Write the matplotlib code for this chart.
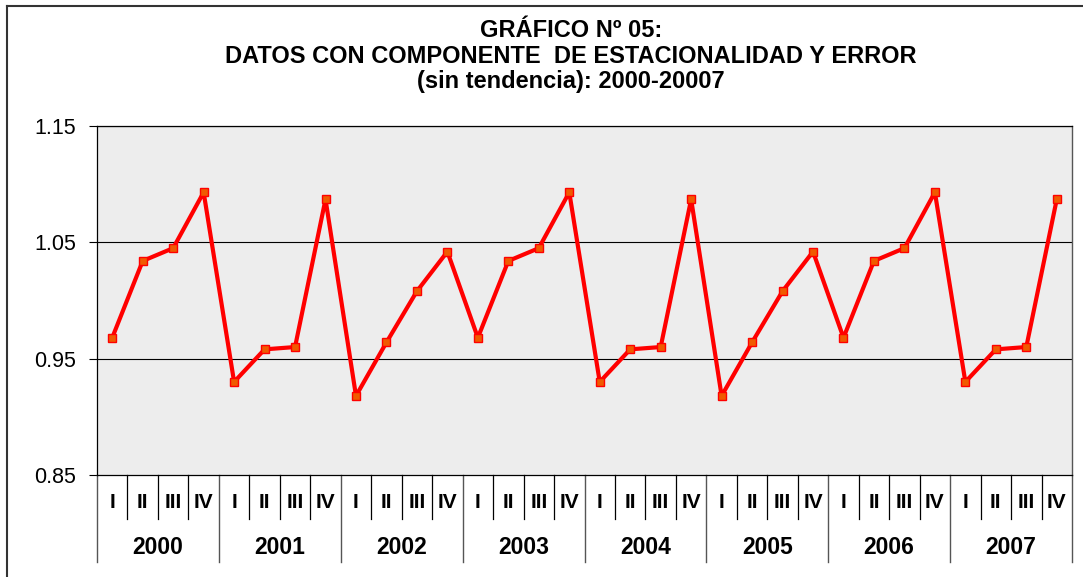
import matplotlib
matplotlib.use("Agg")
import matplotlib.pyplot as plt
from matplotlib.transforms import blended_transform_factory
from matplotlib.lines import Line2D

# ---- data ----
years = ["2000", "2001", "2002", "2003", "2004", "2005", "2006", "2007"]
quarters = ["I", "II", "III", "IV"]
values = [
    0.968, 1.034, 1.045, 1.093,   # 2000
    0.930, 0.958, 0.960, 1.087,   # 2001
    0.918, 0.964, 1.008, 1.042,   # 2002
    0.968, 1.034, 1.045, 1.093,   # 2003
    0.930, 0.958, 0.960, 1.087,   # 2004
    0.918, 0.964, 1.008, 1.042,   # 2005
    0.968, 1.034, 1.045, 1.093,   # 2006
    0.930, 0.958, 0.960, 1.087,   # 2007
]
yticks = [0.85, 0.95, 1.05, 1.15]
title_lines = ["GRÁFICO Nº 05:",
               "DATOS CON COMPONENTE  DE ESTACIONALIDAD Y ERROR",
               "(sin tendencia): 2000-20007"]

plt.rcParams["font.family"] = ["Liberation Sans", "DejaVu Sans"]

W, H = 1083, 577
fig = plt.figure(figsize=(W / 100, H / 100), dpi=100)
fig.patch.set_facecolor("white")

# outer chart border (left and top visible, right/bottom cut off)
fig.add_artist(Line2D([7 / W, 7 / W], [0, 1 - 6 / H], transform=fig.transFigure,
                      color="#333333", lw=1.5))
fig.add_artist(Line2D([7 / W, 1.0], [1 - 6 / H, 1 - 6 / H], transform=fig.transFigure,
                      color="#333333", lw=1.5))

ax_left, ax_right, ax_top, ax_bottom = 97, 1072, 126, 475
ax_h = ax_bottom - ax_top
ax = fig.add_axes([ax_left / W, 1 - ax_bottom / H, (ax_right - ax_left) / W, ax_h / H])
ax.set_facecolor("#ededed")

n = len(values)
xs = list(range(n))
ax.plot(xs, values, color="#ff0000", lw=3.0, marker="s", ms=5.5,
        mfc="#f05a00", mec="#ff0000", mew=1.0, zorder=3, clip_on=False)

ax.set_xlim(-0.5, n - 0.5)
ax.set_ylim(yticks[0], yticks[-1])
ax.set_yticks(yticks)
ax.set_yticklabels([f"{t:.2f}" for t in yticks], fontsize=15.5)
ax.tick_params(axis="y", direction="out", length=6, width=0.8, pad=9, colors="black")
ax.set_xticks([])

for t in yticks[1:]:
    ax.axhline(t, color="black", lw=0.8, zorder=2)

for side in ["left", "bottom", "top"]:
    ax.spines[side].set_color("black")
    ax.spines[side].set_linewidth(0.9)
ax.spines["right"].set_color("#555555")
ax.spines["right"].set_linewidth(1.0)

# multi-level category axis
tr = blended_transform_factory(ax.transData, ax.transAxes)
yq_end = -44 / ax_h
yy_end = -87 / ax_h
yq_lab = -28 / ax_h
yy_lab = -73 / ax_h

for i in range(n):
    q = quarters[i % 4]
    ax.text(i, yq_lab, q, transform=tr, ha="center", va="center",
            fontsize=15, fontweight="bold", clip_on=False)
    if i % 4 != 3:
        ax.add_line(Line2D([i + 0.5, i + 0.5], [0, yq_end], transform=tr,
                           color="black", lw=0.9, clip_on=False))

for k, yr in enumerate(years):
    xc = 4 * k + 1.5
    ax.text(xc, yy_lab, yr, transform=tr, ha="center", va="center",
            fontsize=16.5, fontweight="bold", clip_on=False)
for k in range(len(years) + 1):
    xb = 4 * k - 0.5
    ax.add_line(Line2D([xb, xb], [0, yy_end], transform=tr,
                       color="#555555", lw=1.0, clip_on=False))

# title
baselines = [37, 63, 88]
for line, b in zip(title_lines, baselines):
    fig.text(571 / W, 1 - b / H, line, ha="center", va="baseline",
             fontsize=17, fontweight="bold")

fig.savefig("out.png", dpi=100)
